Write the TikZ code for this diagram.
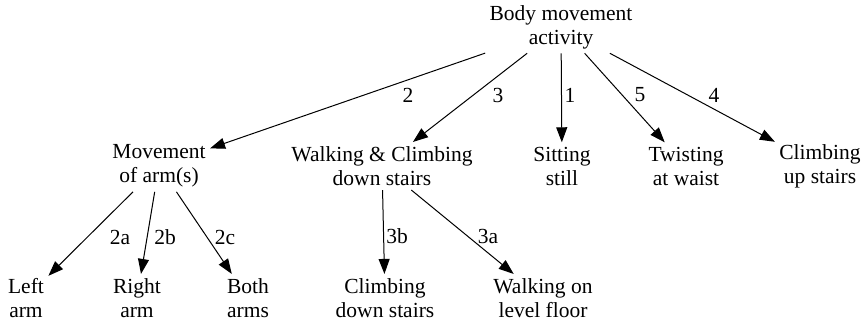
\documentclass[tikz,border=0pt]{standalone}
\usepackage{fontspec}
\setmainfont{Liberation Serif}
\usetikzlibrary{arrows.meta,graphs}

\begin{document}
\begin{tikzpicture}[x=1pt, y=-1pt, line width=1pt,
    >={Triangle[length=15pt,width=11pt]},
    every node/.style={font=\fontsize{21.5}{24}\selectfont, align=center, inner sep=4pt}]
      \useasboundingbox (0,0) rectangle (866,331);

      \node (root) at (561,27) {Body movement\\activity};

      \node (mov) at (159,166) {Movement\\of arm(s)};
      \node (walk) at (382,166) {Walking \& Climbing\\down stairs};
      \node (sit) at (562,166) {Sitting\\still};
      \node (twist) at (686,166) {Twisting\\at waist};
      \node (climbup) at (820,166) {Climbing\\up stairs};

      \node (larm) at (26,298) {Left\\arm};
      \node (rarm) at (137,298) {Right\\arm};
      \node (barm) at (248,298) {Both\\arms};
      \node (climbdown) at (385,298) {Climbing\\down stairs};
      \node (walklevel) at (543,298) {Walking on\\level floor};

      \graph[use existing nodes] {
        root -> {mov, walk, sit, twist, climbup};
        mov -> {larm, rarm, barm};
        walk -> {climbdown, walklevel};
      };

      \node (l2) at (408,95) {2};
      \node (l3) at (498,95) {3};
      \node (l1) at (570,95) {1};
      \node (l5) at (640,95) {5};
      \node (l4) at (714,95) {4};

      \node (l2a) at (120,237) {2a};
      \node (l2b) at (165,237) {2b};
      \node (l2c) at (225,237) {2c};
      \node (l3b) at (397,236) {3b};
      \node (l3a) at (488,236) {3a};
  \end{tikzpicture}
\end{document}
